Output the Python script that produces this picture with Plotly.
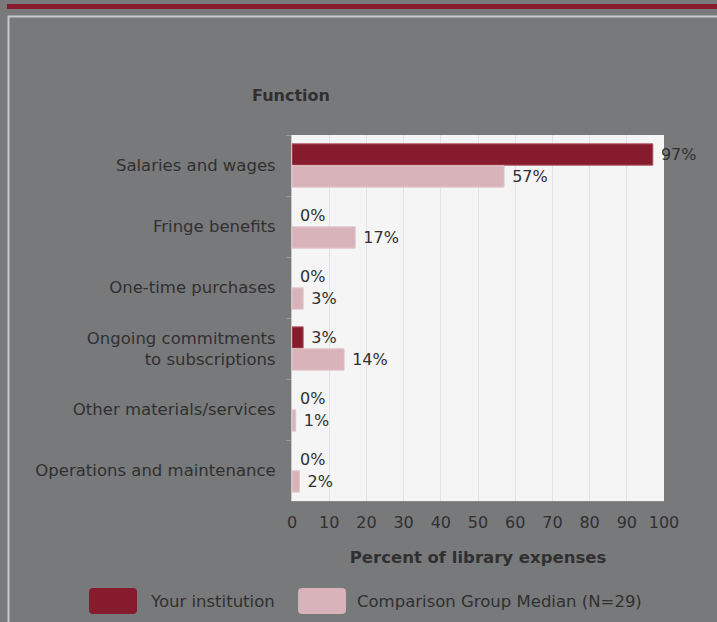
import plotly.graph_objects as go

categories = [
    "Salaries and wages",
    "Fringe benefits",
    "One-time purchases",
    "Ongoing commitments<br>to subscriptions",
    "Other materials/services",
    "Operations and maintenance",
]
your_institution = [97, 0, 0, 3, 0, 0]
comparison_median = [57, 17, 3, 14, 1, 2]
series_names = ["Your institution", "Comparison Group Median (N=29)"]
x_ticks = [0, 10, 20, 30, 40, 50, 60, 70, 80, 90, 100]

W, H = 717, 622
ML, MR, MT, MB = 292, 53, 135, 121
PW, PH = W - ML - MR, H - MT - MB
BG = "#78797b"

def px(x):
    return (x - ML) / PW

def py(y):
    return (H - MB - y) / PH

FONT = "DejaVu Sans"
TXT = "#303030"
RED = "#861b2d"
PINK = "#d8b3b9"

fig = go.Figure()
fig.add_trace(go.Bar(
    y=categories, x=your_institution, orientation="h", name=series_names[0],
    marker=dict(color=RED, line=dict(color="#b05868", width=[1 if v else 0 for v in your_institution])),
    text=["\u00a0%d%%" % v for v in your_institution],
    textposition="outside", cliponaxis=False,
    textfont=dict(family=FONT, size=16, color=TXT),
))
fig.add_trace(go.Bar(
    y=categories, x=comparison_median, orientation="h", name=series_names[1],
    marker=dict(color=PINK, line=dict(color="#e3c6cb", width=[1 if v else 0 for v in comparison_median])),
    text=["\u00a0%d%%" % v for v in comparison_median],
    textposition="outside", cliponaxis=False,
    textfont=dict(family=FONT, size=16, color=TXT),
))

shapes = [
    dict(type="rect", xref="paper", yref="paper", x0=px(7), x1=px(730), y0=py(4), y1=py(9),
         fillcolor=RED, line=dict(width=0), layer="below"),
    dict(type="rect", xref="paper", yref="paper", x0=px(8.5), x1=px(740), y0=py(16.5), y1=py(660),
         fillcolor="rgba(0,0,0,0)", line=dict(color="#c9c9c9", width=2), layer="below"),
]

def rounded(x0, y0, x1, y1, r=4):
    return ("M %f %f L %f %f Q %f %f %f %f L %f %f Q %f %f %f %f L %f %f Q %f %f %f %f L %f %f Q %f %f %f %f Z" % (
        px(x0 + r), py(y0), px(x1 - r), py(y0), px(x1), py(y0), px(x1), py(y0 + r),
        px(x1), py(y1 - r), px(x1), py(y1), px(x1 - r), py(y1),
        px(x0 + r), py(y1), px(x0), py(y1), px(x0), py(y1 - r),
        px(x0), py(y0 + r), px(x0), py(y0), px(x0 + r), py(y0)))

for (x0, col) in [(89, RED), (298, PINK)]:
    shapes.append(dict(type="path", xref="paper", yref="paper", path=rounded(x0, 588, x0 + 48, 614),
                       fillcolor=col, line=dict(width=0)))

annotations = [
    dict(text="Function", xref="paper", yref="paper", x=px(291), y=py(95), xanchor="center", yanchor="middle",
         showarrow=False, font=dict(family=FONT, size=16, color=TXT, weight="bold")),
    dict(text=series_names[0], xref="paper", yref="paper", x=px(148), y=py(601), xanchor="left", yanchor="middle",
         showarrow=False, font=dict(family=FONT, size=16.5, color=TXT)),
    dict(text=series_names[1], xref="paper", yref="paper", x=px(355), y=py(601), xanchor="left", yanchor="middle",
         showarrow=False, font=dict(family=FONT, size=16.5, color=TXT)),
]

fig.update_layout(
    width=W, height=H,
    margin=dict(l=ML, r=MR, t=MT, b=MB, pad=0),
    paper_bgcolor=BG, plot_bgcolor="#f5f5f5",
    barmode="group", bargap=0.28, bargroupgap=0.03,
    showlegend=False,
    shapes=shapes, annotations=annotations,
    font=dict(family=FONT, color=TXT, size=16),
)
fig.update_xaxes(
    range=[0, 100], tickvals=x_ticks, showgrid=True, gridcolor="#dde2ee", gridwidth=1,
    zeroline=False, showline=True, linecolor="#8a8a8a",
    ticks="", ticklabelstandoff=7, tickfont=dict(family=FONT, size=16, color=TXT),
    title=dict(text="Percent of library expenses", standoff=20,
               font=dict(family=FONT, size=16.5, color=TXT, weight="bold")),
    fixedrange=True,
)
fig.update_yaxes(
    autorange="reversed", showgrid=False, zeroline=False,
    showline=True, linecolor="#c8c8c8", ticks="outside", tickson="boundaries",
    ticklen=5, tickcolor="#9a9a9a", ticklabelstandoff=12,
    tickfont=dict(family=FONT, size=16.5, color=TXT), fixedrange=True,
)

fig.write_html(
    "out.html",
    config={"displayModeBar": False},
    post_script="document.body.style.margin='0';document.body.style.background='%s';" % BG,
)
